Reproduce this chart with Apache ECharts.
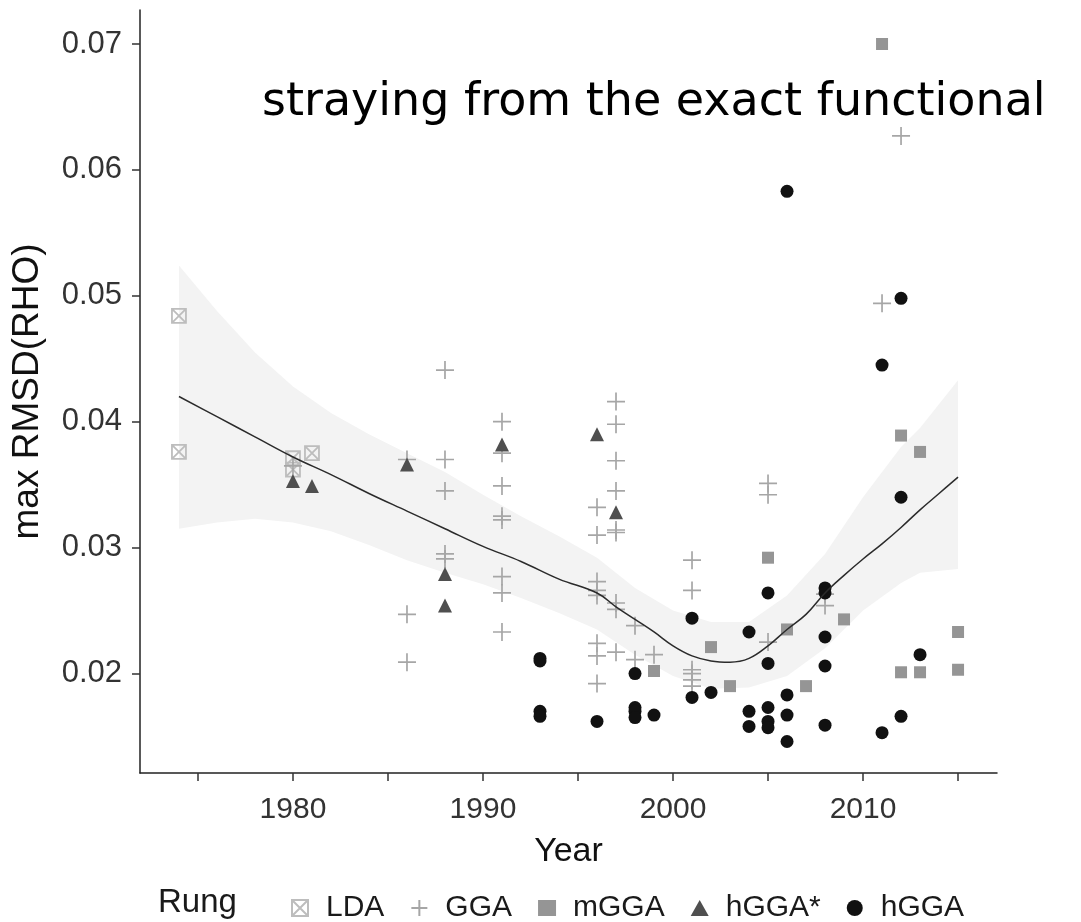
<!DOCTYPE html>
<html>
<head>
<meta charset="utf-8">
<script src="https://cdn.jsdelivr.net/npm/echarts@6/dist/echarts.min.js"></script>
<style>
  html, body { margin: 0; padding: 0; background: #fff; }
  #chart { width: 1081px; height: 922px; }
</style>
</head>
<body>
<div id="chart"></div>
<script>
// points per rung
var ldaYears = [1974, 1974, 1980, 1980, 1981];
var ldaValues = [0.0484, 0.0376, 0.0371, 0.0362, 0.0375];

var ggaYears = [1980, 1986, 1986, 1986, 1988, 1988, 1988, 1988, 1988,
  1991, 1991, 1991, 1991, 1991, 1991, 1991, 1991,
  1996, 1996, 1996, 1996, 1996, 1996, 1996, 1996,
  1997, 1997, 1997, 1997, 1997, 1997, 1997, 1997, 1997,
  1998, 1998, 1999, 2001, 2001, 2001, 2001, 2001, 2001,
  2005, 2005, 2005, 2008, 2008, 2011, 2012];
var ggaValues = [0.0365, 0.0370, 0.0247, 0.0209, 0.0441, 0.0370, 0.0345, 0.0295, 0.0291,
  0.0400, 0.0375, 0.0349, 0.0325, 0.0322, 0.0277, 0.0264, 0.0233,
  0.0332, 0.0310, 0.0273, 0.0266, 0.0262, 0.0224, 0.0214, 0.0192,
  0.0416, 0.0398, 0.0369, 0.0345, 0.0314, 0.0312, 0.0256, 0.0251, 0.0217,
  0.0238, 0.0211, 0.0215, 0.0290, 0.0266, 0.0203, 0.0200, 0.0195, 0.0190,
  0.0351, 0.0342, 0.0225, 0.0263, 0.0254, 0.0494, 0.0627];

var mggaYears = [1999, 2002, 2003, 2005, 2006, 2007, 2009, 2011, 2012, 2012, 2013, 2013, 2015, 2015];
var mggaValues = [0.0202, 0.0221, 0.0190, 0.0292, 0.0235, 0.0190, 0.0243, 0.0700, 0.0389, 0.0201, 0.0376, 0.0201, 0.0233, 0.0203];

var hggaStarYears = [1980, 1981, 1986, 1988, 1988, 1991, 1996, 1997];
var hggaStarValues = [0.0353, 0.0349, 0.0366, 0.0279, 0.0254, 0.0382, 0.0390, 0.0328];

var hggaYears = [1993, 1993, 1993, 1993, 1996, 1998, 1998, 1998, 1998, 1999,
  2001, 2001, 2002, 2004, 2004, 2004, 2005, 2005, 2005, 2005, 2005,
  2006, 2006, 2006, 2006, 2008, 2008, 2008, 2008, 2008,
  2011, 2011, 2012, 2012, 2012, 2013];
var hggaValues = [0.0212, 0.0210, 0.0170, 0.0166, 0.0162, 0.0200, 0.0173, 0.0170, 0.0165, 0.0167,
  0.0244, 0.0181, 0.0185, 0.0233, 0.0170, 0.0158, 0.0264, 0.0208, 0.0173, 0.0162, 0.0157,
  0.0583, 0.0183, 0.0167, 0.0146, 0.0268, 0.0264, 0.0229, 0.0206, 0.0159,
  0.0445, 0.0153, 0.0498, 0.0340, 0.0166, 0.0215];

// loess trend and its confidence band
var fitYears = [1974, 1976, 1978, 1980, 1982, 1984, 1986, 1988, 1990, 1992, 1994, 1996, 1997, 1998,
  1999, 2000, 2001, 2002, 2003, 2004, 2005, 2006, 2007, 2008, 2009, 2010, 2011, 2012, 2013, 2014, 2015];
var fitValues = [0.0420, 0.0404, 0.0388, 0.0372, 0.0358, 0.0343, 0.0329, 0.0315, 0.0301, 0.0289, 0.0275, 0.0264, 0.0253, 0.0243,
  0.0233, 0.0222, 0.0214, 0.0210, 0.0209, 0.0212, 0.0222, 0.0235, 0.0247, 0.0264, 0.0278, 0.0291, 0.0303, 0.0316, 0.0330, 0.0343, 0.0356];

var bandYears = [1974, 1976, 1978, 1980, 1982, 1984, 1986, 1988, 1990, 1992, 1994, 1996, 1998, 2000,
  2002, 2004, 2006, 2008, 2010, 2012, 2013, 2015];
var bandLower = [0.0315, 0.0320, 0.0323, 0.0320, 0.0313, 0.0302, 0.0290, 0.0280, 0.0271, 0.0260, 0.0248, 0.0235, 0.0215, 0.0198,
  0.0188, 0.0189, 0.0198, 0.0220, 0.0250, 0.0272, 0.0280, 0.0283];
var bandUpper = [0.0524, 0.0488, 0.0455, 0.0428, 0.0407, 0.0390, 0.0375, 0.0360, 0.0342, 0.0325, 0.0309, 0.0292, 0.0268, 0.0250,
  0.0241, 0.0241, 0.0262, 0.0295, 0.0340, 0.0380, 0.0395, 0.0433];

var xTicks = [1975, 1980, 1985, 1990, 1995, 2000, 2005, 2010, 2015];
var xLabels = [1980, 1990, 2000, 2010];
var yTicks = [0.02, 0.03, 0.04, 0.05, 0.06, 0.07];

function pairs(xs, ys) {
  var out = [];
  for (var i = 0; i < xs.length; i++) out.push([xs[i], ys[i]]);
  return out;
}

var axisFont = 'Liberation Sans';
var myChart = echarts.init(document.getElementById('chart'));

var option = {
  animation: false,
  backgroundColor: '#fff',
  grid: { left: 140, right: 84, top: 10, bottom: 149, outerBoundsMode: 'none' },
  graphic: [
    {
      type: 'text', left: 262, top: 80, z: 100,
      style: { text: 'straying from the exact functional', font: '46px "DejaVu Sans"', fill: '#000' }
    },
    {
      type: 'text', left: 158, top: 886,
      style: { text: 'Rung', font: '33px "Liberation Sans"', fill: '#1a1a1a' }
    }
  ],
  legend: {
    left: 286, top: 888,
    itemWidth: 18, itemHeight: 16, itemGap: 26,
    textStyle: { fontFamily: axisFont, fontSize: 30, color: '#1a1a1a', padding: [0, 0, 0, 12] },
    data: ['LDA', 'GGA', 'mGGA', 'hGGA*', 'hGGA'],
    selectedMode: false
  },
  xAxis: {
    type: 'value', min: 1971.95, max: 2017.05,
    name: 'Year', nameLocation: 'middle', nameGap: 62,
    nameTextStyle: { fontFamily: axisFont, fontSize: 34, color: '#111' },
    axisLine: { lineStyle: { color: '#222', width: 1.5 } },
    axisTick: { customValues: xTicks, length: 8, lineStyle: { color: '#333', width: 1.5 } },
    axisLabel: {
      customValues: xLabels, margin: 22, fontFamily: axisFont, fontSize: 30, color: '#333',
      formatter: function (v) { return String(v); }
    },
    splitLine: { show: false }
  },
  yAxis: {
    type: 'value', min: 0.0121, max: 0.0727,
    name: 'max RMSD(RHO)', nameLocation: 'middle', nameGap: 94, nameRotate: 90,
    nameTextStyle: { fontFamily: axisFont, fontSize: 37, color: '#111' },
    axisLine: { show: true, lineStyle: { color: '#222', width: 1.5 } },
    axisTick: { show: true, customValues: yTicks, length: 8, lineStyle: { color: '#333', width: 1.5 } },
    axisLabel: {
      customValues: yTicks, margin: 18, fontFamily: axisFont, fontSize: 31, color: '#333',
      formatter: function (v) { return v.toFixed(2); }
    },
    splitLine: { show: false }
  },
  series: [
    {
      name: 'band', type: 'custom', z: 1, silent: true,
      data: [[bandYears[0], bandLower[0]]],
      renderItem: function (params, api) {
        var pts = [], i;
        for (i = 0; i < bandYears.length; i++) pts.push(api.coord([bandYears[i], bandUpper[i]]));
        for (i = bandYears.length - 1; i >= 0; i--) pts.push(api.coord([bandYears[i], bandLower[i]]));
        return { type: 'polygon', shape: { points: pts }, style: { fill: '#f3f3f3', stroke: null } };
      }
    },
    {
      name: 'LDA', type: 'scatter', z: 3,
      symbol: 'path://M0,0H10V10H0Z M0,0L10,10 M10,0L0,10', symbolSize: 14,
      itemStyle: { color: 'transparent', borderColor: '#bdbdbd', borderWidth: 1.8, opacity: 1 },
      data: pairs(ldaYears, ldaValues)
    },
    {
      name: 'GGA', type: 'scatter', z: 3,
      symbol: 'path://M5,0V10M0,5H10', symbolSize: 18,
      itemStyle: { color: 'transparent', borderColor: '#a6a6a6', borderWidth: 1.7, opacity: 1 },
      data: pairs(ggaYears, ggaValues)
    },
    {
      name: 'mGGA', type: 'scatter', z: 3,
      symbol: 'rect', symbolSize: 12,
      itemStyle: { color: '#959595', opacity: 1 },
      data: pairs(mggaYears, mggaValues)
    },
    {
      name: 'hGGA*', type: 'scatter', z: 3,
      symbol: 'triangle', symbolSize: 14,
      itemStyle: { color: '#4f4f4f', opacity: 1 },
      data: pairs(hggaStarYears, hggaStarValues)
    },
    {
      name: 'hGGA', type: 'scatter', z: 3,
      symbol: 'circle', symbolSize: 13,
      itemStyle: { color: '#111111', opacity: 1 },
      data: pairs(hggaYears, hggaValues)
    },
    {
      name: 'fit', type: 'line', z: 4, smooth: 0.4, showSymbol: false, silent: true,
      lineStyle: { color: '#2b2b2b', width: 1.5 },
      data: pairs(fitYears, fitValues)
    }
  ]
};

myChart.setOption(option);
window.addEventListener('resize', myChart.resize);
</script>
</body>
</html>
